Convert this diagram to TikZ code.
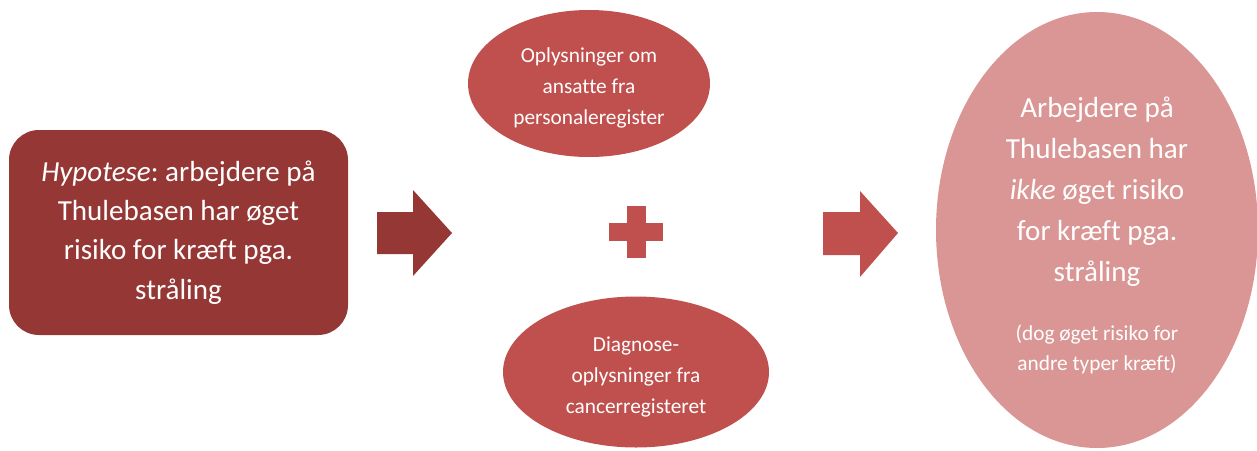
\documentclass[tikz,border=0pt]{standalone}
\usepackage{fontspec}
\setmainfont{Carlito}[Ligatures=NoCommon]
\usetikzlibrary{shapes.geometric}
\frenchspacing

\definecolor{darkred}{HTML}{953735}
\definecolor{midred}{HTML}{C0504D}
\definecolor{rose}{HTML}{D99694}

\begin{document}
\begin{tikzpicture}[x=0.75pt,y=-0.75pt,
  bigtext/.style={font=\fontsize{21.8}{29.5}\selectfont, text=white, align=center},
  resulttext/.style={font=\fontsize{21.8}{30.8}\selectfont, text=white, align=center},
  smalltext/.style={font=\fontsize{16}{23}\selectfont, text=white, align=center},
  hypobox/.style={rectangle, rounded corners=22.5pt, fill=darkred, draw=none,
    minimum width=254.25pt, minimum height=153.75pt, inner sep=0pt},
  sourceoval/.style={ellipse, fill=midred, draw=none, inner sep=0pt},
  resultoval/.style={ellipse, fill=rose, draw=none, inner sep=0pt,
    minimum width=241.5pt, minimum height=327pt}]
\useasboundingbox (0,0) rectangle (1257,450);

% hypothesis box
\node[hypobox, bigtext] (hypo) at (178.5,232.5)
  {\textit{Hypotese}: arbejdere på\\Thulebasen har øget\\risiko for kræft pga.\\stråling};

% data sources
\node[sourceoval, minimum width=181.5pt, minimum height=110.25pt] (staff) at (589,83.5) {};
\node[smalltext] (stafftext) at (589,88)
  {Oplysninger om\\ansatte fra\\personaleregister};
\node[sourceoval, minimum width=199.5pt, minimum height=113.25pt] (cancer) at (636,372) {};
\node[smalltext] (cancertext) at (636,377)
  {Diagnose-\\oplysninger fra\\cancerregisteret};

% result
\node[resultoval] (result) at (1097,230) {};
\node[resulttext] (resultmain) at (1097,191.5)
  {Arbejdere på\\Thulebasen har\\\textit{ikke} øget risiko\\for kræft pga.\\stråling};
\node[smalltext] (resultnote) at (1097,349.5)
  {(dog øget risiko for\\andre typer kræft)};

% plus sign
\fill[midred] (627,206) rectangle (646,258);
\fill[midred] (609,223) rectangle (663,241);

% block arrows
\fill[darkred] (377,212) -- (413,212) -- (413,190) -- (452,233) -- (413,276)
  -- (413,254) -- (377,254) -- cycle;
\fill[midred] (823,212) -- (860,212) -- (860,191) -- (898,233) -- (860,277)
  -- (860,255) -- (823,255) -- cycle;
\end{tikzpicture}
\end{document}
